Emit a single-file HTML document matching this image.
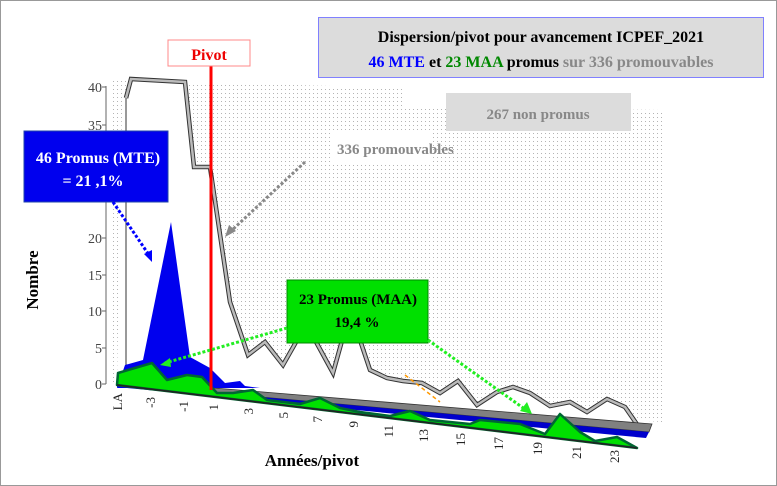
<!DOCTYPE html>
<html><head><meta charset="utf-8"><style>
body{margin:0;background:#fff}
svg{display:block;font-family:"Liberation Serif",serif}
</style></head><body>
<svg width="777" height="486" viewBox="0 0 777 486" xmlns="http://www.w3.org/2000/svg">
<defs>
<pattern id="dots" width="4" height="4" patternUnits="userSpaceOnUse"><rect width="4" height="4" fill="#fff"/><rect x="1" y="1" width="1" height="1" fill="#b4b4b4"/></pattern>
</defs>
<rect x="0.5" y="0.5" width="776" height="485" fill="#fff" stroke="#999"/>
<polygon points="110,80 405,88 405,107 662,110 662,422 110,383" fill="url(#dots)"/>
<line x1="106" y1="86" x2="106" y2="384" stroke="#666"/>
<g font-size="14" fill="#444" text-anchor="end">
<text x="102" y="92">40</text><line x1="102" y1="87" x2="106" y2="87" stroke="#666"/>
<text x="102" y="130">35</text><line x1="102" y1="125" x2="106" y2="125" stroke="#666"/>
<text x="102" y="167">30</text>
<text x="102" y="243">20</text><line x1="102" y1="238" x2="106" y2="238" stroke="#666"/>
<text x="102" y="280">15</text><line x1="102" y1="275" x2="106" y2="275" stroke="#666"/>
<text x="102" y="316">10</text><line x1="102" y1="311" x2="106" y2="311" stroke="#666"/>
<text x="102" y="353">5</text><line x1="102" y1="348" x2="106" y2="348" stroke="#666"/>
<text x="102" y="389">0</text><line x1="102" y1="384" x2="106" y2="384" stroke="#666"/>
</g>
<polygon points="117,383 122,110 126,98 131,79 185,82 194,167 210,167 230,302 248,355 265,342 283,365 300,335 315,340 333,373 343,337 360,340 370,370 387,378 403,381 422,383 440,393 458,381 477,405 497,392 513,387 530,393 550,406 570,402 587,412 607,399 625,407 643,433 645,432" fill="#fff"/>
<polyline points="126,98 131,79 185,82 194,167 210,167 230,302 248,355 265,342 283,365 300,335 315,340 333,373 343,337 360,340 370,370 387,378 403,381 422,383 440,393 458,381 477,405 497,392 513,387 530,393 550,406 570,402 587,412 607,399 625,407 643,433" fill="none" stroke="#333" stroke-width="4.5"/>
<polyline points="126,98 131,79 185,82 194,167 210,167 230,302 248,355 265,342 283,365 300,335 315,340 333,373 343,337 360,340 370,370 387,378 403,381 422,383 440,393 458,381 477,405 497,392 513,387 530,393 550,406 570,402 587,412 607,399 625,407 643,433" fill="none" stroke="#bbb" stroke-width="2.5"/>
<line x1="126" y1="98" x2="126" y2="370" stroke="#333" stroke-width="1"/>
<!-- floor bands -->
<polygon points="117,380 652,424 649,432 117,384" fill="#808080" stroke="#333" stroke-width="0.8"/>
<polygon points="117,384 649,432 646,438 117,387" fill="#0000cc"/>
<polygon points="125,365 143,360 171,222 190,357 210,368 225,383 240,381 245,386 260,388 117,388" fill="#0000ee"/>
<polygon points="118,373 152,363 167,380 187,375 202,377 217,393 233,393 253,390 267,400 300,404 320,398 340,408 360,412 390,416 410,411 430,420 470,424 480,420 520,424 545,434 560,414 580,432 595,441 617,437 637,448 117,385" fill="#00e000" stroke="#063" stroke-width="2.5" stroke-linejoin="round"/>
<line x1="117" y1="385" x2="637" y2="448" stroke="#222" stroke-width="1.5"/>
<g font-size="13" fill="#222">
<text transform="translate(122,393) rotate(-90)" text-anchor="end">LA</text>
<text transform="translate(155,397) rotate(-90)" text-anchor="end">-3</text>
<text transform="translate(188,401) rotate(-90)" text-anchor="end">-1</text>
<text transform="translate(218,404) rotate(-90)" text-anchor="end">1</text>
<text transform="translate(253,408) rotate(-90)" text-anchor="end">3</text>
<text transform="translate(288,412) rotate(-90)" text-anchor="end">5</text>
<text transform="translate(322,416) rotate(-90)" text-anchor="end">7</text>
<text transform="translate(358,421) rotate(-90)" text-anchor="end">9</text>
<text transform="translate(393,425) rotate(-90)" text-anchor="end">11</text>
<text transform="translate(428,429) rotate(-90)" text-anchor="end">13</text>
<text transform="translate(465,433) rotate(-90)" text-anchor="end">15</text>
<text transform="translate(503,437) rotate(-90)" text-anchor="end">17</text>
<text transform="translate(542,442) rotate(-90)" text-anchor="end">19</text>
<text transform="translate(581,446) rotate(-90)" text-anchor="end">21</text>
<text transform="translate(619,450) rotate(-90)" text-anchor="end">23</text>
</g>
<text transform="translate(38,280) rotate(-90)" font-size="17" font-weight="bold" text-anchor="middle">Nombre</text>
<text x="312" y="466" font-size="17" font-weight="bold" text-anchor="middle">Années/pivot</text>
<line x1="211" y1="66" x2="211" y2="390" stroke="#f00" stroke-width="3"/>
<rect x="168" y="40" width="82" height="26" fill="#fff" stroke="#f88"/>
<text x="209" y="60" font-size="16" font-weight="bold" fill="#e00" text-anchor="middle">Pivot</text>
<rect x="318.5" y="17.5" width="445" height="60" fill="#dcdcdc" stroke="#8080ff"/>
<text x="541" y="42" font-size="16" font-weight="bold" text-anchor="middle">Dispersion/pivot pour avancement ICPEF_2021</text>
<text x="541" y="67" font-size="16" font-weight="bold" text-anchor="middle"><tspan fill="#00f">46 MTE</tspan> et <tspan fill="#080">23 MAA</tspan> promus <tspan fill="#888">sur 336 promouvables</tspan></text>
<rect x="446" y="93" width="185" height="38" fill="#dcdcdc"/>
<text x="538" y="119" font-size="15" font-weight="bold" fill="#888" text-anchor="middle">267 non promus</text>
<rect x="330" y="130" width="100" height="34" fill="#fff"/>
<text x="337" y="154" font-size="15" font-weight="bold" fill="#888">336 promouvables</text>
<line x1="305" y1="162" x2="230" y2="232" stroke="#888" stroke-width="3" stroke-dasharray="3,2"/>
<polygon points="225,237 229,225 236,231" fill="#888"/>
<rect x="24" y="131" width="144" height="71" fill="#0000ee" stroke="#2244aa"/>
<text x="98" y="163" font-size="16" font-weight="bold" fill="#fff" text-anchor="middle">46 Promus (MTE)</text>
<text x="93" y="186" font-size="16" font-weight="bold" fill="#fff" text-anchor="middle">= 21 ,1%</text>
<line x1="113" y1="202" x2="149" y2="255" stroke="#00f" stroke-width="3" stroke-dasharray="3,2"/>
<polygon points="152,262 144,254 152,250" fill="#00f"/>
<rect x="287" y="280" width="141" height="63" fill="#00e000" stroke="#080"/>
<text x="358" y="304" font-size="15" font-weight="bold" text-anchor="middle">23 Promus (MAA)</text>
<text x="357" y="327" font-size="15" font-weight="bold" text-anchor="middle">19,4 %</text>
<line x1="287" y1="328" x2="165" y2="363" stroke="#2e2" stroke-width="3" stroke-dasharray="3,2"/>
<polygon points="160,365 170,358 171,367" fill="#2e2"/>
<line x1="428" y1="340" x2="526" y2="410" stroke="#2e2" stroke-width="3" stroke-dasharray="3,2"/>
<polygon points="532,414 520,411 527,402" fill="#2e2"/>
<line x1="405" y1="375" x2="440" y2="402" stroke="#f90" stroke-width="1.5" stroke-dasharray="4,3"/>
</svg>
</body></html>
